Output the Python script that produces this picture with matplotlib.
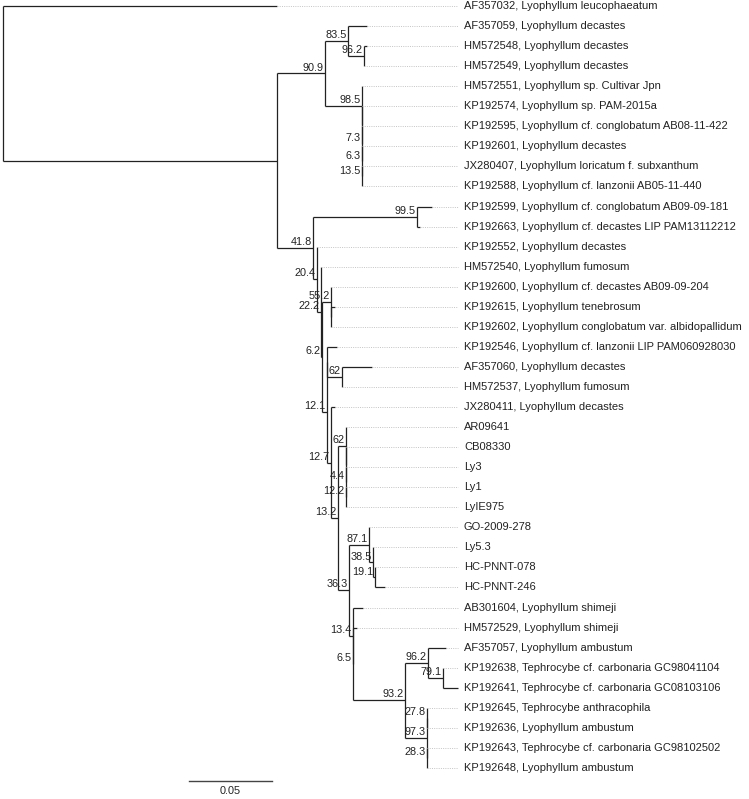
import matplotlib
matplotlib.use('Agg')
import matplotlib.pyplot as plt

plt.rcParams['font.family'] = ['Liberation Sans', 'DejaVu Sans']

# tip names in drawing order and the species part of each label
tip_ids = ['AF357032', 'AF357059', 'HM572548', 'HM572549', 'HM572551', 'KP192574',
           'KP192595', 'KP192601', 'JX280407', 'KP192588', 'KP192599', 'KP192663',
           'KP192552', 'HM572540', 'KP192600', 'KP192615', 'KP192602', 'KP192546',
           'AF357060', 'HM572537', 'JX280411', 'AR09641', 'CB08330', 'Ly3', 'Ly1',
           'LyIE975', 'GO-2009-278', 'Ly5.3', 'HC-PNNT-078', 'HC-PNNT-246',
           'AB301604', 'HM572529', 'AF357057', 'KP192638', 'KP192641', 'KP192645',
           'KP192636', 'KP192643', 'KP192648']
tip_species = ['Lyophyllum leucophaeatum', 'Lyophyllum decastes', 'Lyophyllum decastes',
               'Lyophyllum decastes', 'Lyophyllum sp. Cultivar Jpn', 'Lyophyllum sp. PAM-2015a',
               'Lyophyllum cf. conglobatum AB08-11-422', 'Lyophyllum decastes',
               'Lyophyllum loricatum f. subxanthum', 'Lyophyllum cf. lanzonii AB05-11-440',
               'Lyophyllum cf. conglobatum AB09-09-181', 'Lyophyllum cf. decastes LIP PAM13112212',
               'Lyophyllum decastes', 'Lyophyllum fumosum', 'Lyophyllum cf. decastes AB09-09-204',
               'Lyophyllum tenebrosum', 'Lyophyllum conglobatum var. albidopallidum',
               'Lyophyllum cf. lanzonii LIP PAM060928030', 'Lyophyllum decastes',
               'Lyophyllum fumosum', 'Lyophyllum decastes', '', '', '', '', '', '', '', '', '',
               'Lyophyllum shimeji', 'Lyophyllum shimeji', 'Lyophyllum ambustum',
               'Tephrocybe cf. carbonaria GC98041104', 'Tephrocybe cf. carbonaria GC08103106',
               'Tephrocybe anthracophila', 'Lyophyllum ambustum',
               'Tephrocybe cf. carbonaria GC98102502', 'Lyophyllum ambustum']

# topology with branch lengths and support values
newick_upper = ('((AF357059:0.0114,(HM572548:0.0018,HM572549:0)96.2:0.0096)83.5:0.0139,'
                '(HM572551:0,(KP192574:0,(KP192595:0,(KP192601:0,(JX280407:0,KP192588:0)'
                '13.5:0)6.3:0)7.3:0):0)98.5:0.0223)90.9:0.029')
newick_lower = ('((KP192599:0.009,KP192663:0.0018)99.5:0.0627,'
                '(KP192552:0,(HM572540:0,('
                '(KP192600:0,(KP192615:0.0024,KP192602:0):0)55.2:0.0054,'
                '((KP192546:0.006,(AF357060:0.018,HM572537:0)62:0.009):0,'
                '(JX280411:0.0024,('
                '(AR09641:0,(CB08330:0,(Ly3:0,(Ly1:0,LyIE975:0)12.2:0)4.4:0):0)62:0.0048,'
                '((GO-2009-278:0,(Ly5.3:0,(HC-PNNT-078:0,HC-PNNT-246:0.006)19.1:0.0012)38.5:0.0024)87.1:0.012,'
                '(AB301604:0.006,(HM572529:0.0024,'
                '((AF357057:0.0108,(KP192638:0,KP192641:0.009)79.1:0.009)96.2:0.0139,'
                '((KP192645:0,KP192636:0)27.8:0,(KP192643:0,KP192648:0)28.3:0)97.3:0.0133)93.2:0.0313'
                ')6.5:0)13.4:0.0024)36.3:0.0066)13.2:0.0042)12.7:0.0024)12.1:0.003'
                ')6.2:0.0006)22.2:0.0024)20.4:0.0024)41.8:0.0217')
newick = '(AF357032:0.165,(' + newick_upper + ',' + newick_lower + '):0.165);'

scale_len = 0.05


def parse(s):
    pos = 0

    def node():
        nonlocal pos
        kids = []
        if s[pos] == '(':
            pos += 1
            kids.append(node())
            while s[pos] == ',':
                pos += 1
                kids.append(node())
            pos += 1
        start = pos
        while s[pos] not in ':,);':
            pos += 1
        label = s[start:pos]
        length = 0.0
        if s[pos] == ':':
            pos += 1
            start = pos
            while s[pos] not in ',);':
                pos += 1
            length = float(s[start:pos])
        return {'label': label, 'len': length, 'kids': kids}

    return node()


tree = parse(newick)
tip_count = [0]


def layout(n, x0):
    n['x'] = x0 + n['len']
    if not n['kids']:
        n['y'] = tip_count[0]
        tip_count[0] += 1
    else:
        for k in n['kids']:
            layout(k, n['x'])
        n['y'] = sum(k['y'] for k in n['kids']) / len(n['kids'])


layout(tree, 0.0)

nodes = []


def collect(n, px):
    nodes.append((n, px))
    for k in n['kids']:
        collect(k, n['x'])


collect(tree, 0.0)

max_x = max(n['x'] for n, _ in nodes if not n['kids'])
label_x = max_x + 0.0038

fig = plt.figure(figsize=(7.49, 7.99), dpi=100)
ax = fig.add_axes([0, 0, 1, 1])
ax.axis('off')

line_col = '#222222'
for n, px in nodes:
    ax.plot([px, n['x']], [n['y'], n['y']], color=line_col, lw=0.9, solid_capstyle='butt')
    if n['kids']:
        ys = [k['y'] for k in n['kids']]
        ax.plot([n['x'], n['x']], [min(ys), max(ys)], color=line_col, lw=0.9,
                solid_capstyle='butt')
        if n['label']:
            ax.annotate(n['label'], (n['x'], n['y']), xytext=(-0.8, 0.6),
                        textcoords='offset points', ha='right', va='bottom',
                        fontsize=7.8, color='#222222')
    else:
        ax.plot([n['x'], max_x], [n['y'], n['y']], color='#c4c4c4', lw=0.7,
                linestyle=(0, (1, 1.3)))
        i = tip_ids.index(n['label'])
        txt = tip_ids[i] + (', ' + tip_species[i] if tip_species[i] else '')
        ax.text(label_x, n['y'], txt, ha='left', va='center', fontsize=8.0,
                color='#222222')

# scale bar
ntips = len(tip_ids)
sb_x0 = 0.112
ax.plot([sb_x0, sb_x0 + scale_len], [ntips - 1 + 0.65] * 2, color='#444444', lw=1.0)
ax.text(sb_x0 + scale_len / 2, ntips - 1 + 1.15, f'{scale_len:g}', ha='center',
        va='center', fontsize=7.8, color='#222222')

ax.set_xlim(-3 * 0.05 / 83, 746 * 0.05 / 83)
ax.set_ylim(39.55, -0.3)

fig.savefig('out.png', dpi=100)
